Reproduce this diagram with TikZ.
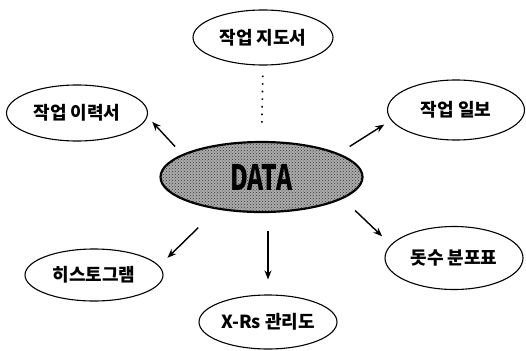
\documentclass[tikz,border=0pt]{standalone}
\usepackage{fontspec}
\setmainfont{Noto Sans CJK KR}
\usetikzlibrary{arrows.meta,shapes.geometric,patterns}
\tikzset {>={Stealth[length=9pt,width=7pt]}}
\tikzset{
  item/.style={draw,ellipse,line width=1.1pt,inner sep=0pt,
    font=\fontsize{18}{20}\selectfont\bfseries},
  hub/.style={draw,ellipse,line width=2.2pt,inner sep=0pt,fill=gray!65,
    postaction={pattern=crosshatch dots,pattern color=black!80},
    font=\fontsize{35}{37}\selectfont\bfseries},
  link/.style={->,line width=1.4pt}}

\begin{document}
\begin{tikzpicture}[x=1pt,y=-1pt]
\useasboundingbox (0,0) rectangle (526,350);
\node[hub,minimum width=202,minimum height=70] (data) at (261.5,177) {\scalebox{0.7}[1]{DATA}};
\node[item,minimum width=140,minimum height=55] (jido)  at (263,37.5) {작업 지도서};
\node[item,minimum width=141,minimum height=56] (iryeok) at (77,113) {작업 이력서};
\node[item,minimum width=137,minimum height=60] (ilbo)  at (456,110) {작업 일보};
\node[item,minimum width=138,minimum height=52] (hist)  at (94,275) {히스토그램};
\node[item,minimum width=138,minimum height=63] (dosu)  at (454,258) {돗수 분포표};
\node[item,minimum width=138,minimum height=54] (xrs)   at (268,322) {X-Rs 관리도};
% links from the data
\draw[line width=1.6pt,dash pattern=on 1.6pt off 6pt,shorten <=10pt,shorten >=16pt] (jido.south) -- (data.north);
\draw[link,shorten <=13pt,shorten >=8pt] (data.17) -- (ilbo.189.5);
\draw[link,shorten <=10.5pt,shorten >=7pt] (data.164.8) -- (iryeok.357);
\draw[link,shorten <=26pt,shorten >=11.5pt] (data.216.7) -- (hist.8);
\draw[link,shorten <=17pt,shorten >=12pt] (data.345.5) -- (dosu.168.9);
\draw[link,shorten <=18pt,shorten >=15pt] (data.south -| xrs) -- (xrs.north);
\end{tikzpicture}
\end{document}
